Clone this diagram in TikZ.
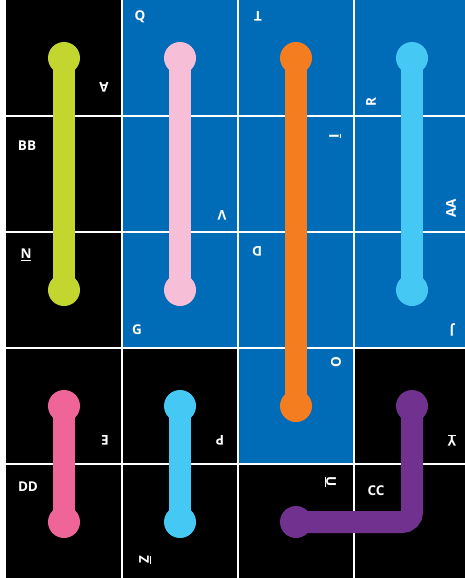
\documentclass[tikz,border=0pt]{standalone}
\usepackage{fontspec}
\setsansfont{Open Sans}
\definecolor{mapBlue}{HTML}{006CB7}
\definecolor{lineLime}{HTML}{C3D62F}
\definecolor{linePink}{HTML}{F7BFD7}
\definecolor{lineOrange}{HTML}{F47D20}
\definecolor{lineSky}{HTML}{46C8F5}
\definecolor{lineRose}{HTML}{EF6597}
\definecolor{linePurple}{HTML}{70318F}
\tikzset{
  map grid/.style={draw=white, line width=1.2pt},
  map tube/.style={line width=22pt, line cap=butt},
  map stop/.style={circle, fill=#1, minimum size=32pt, inner sep=0pt},
  map label/.style={text=white, inner sep=0pt,
    font=\sffamily\bfseries\fontsize{13.5}{15}\selectfont}
}
\begin{document}
\begin{tikzpicture}[x=1pt,y=-1pt]
  \useasboundingbox (0,0) rectangle (465,578);
  \fill[white] (0,0) rectangle (465,578);
  \fill[black] (6,0) rectangle (465,578);
  \fill[mapBlue] (122,0) -- (465,0) -- (465,348) -- (354,348) -- (354,464)
    -- (238,464) -- (238,348) -- (122,348) -- cycle;
  \foreach \x in {122,238,354}
    \draw[map grid] (\x,0) -- (\x,578);
  \foreach \y in {116,232,348,464}
    \draw[map grid] (6,\y) -- (465,\y);

  \node[map stop=lineLime] (limeA) at (64,58) {};
  \node[map stop=lineLime] (limeB) at (64,290) {};
  \node[map stop=linePink] (pinkA) at (180,58) {};
  \node[map stop=linePink] (pinkB) at (180,290) {};
  \node[map stop=lineOrange] (orangeA) at (296,58) {};
  \node[map stop=lineOrange] (orangeB) at (296,406) {};
  \node[map stop=lineSky] (skyA) at (412,58) {};
  \node[map stop=lineSky] (skyB) at (412,290) {};
  \node[map stop=lineRose] (roseA) at (64,406) {};
  \node[map stop=lineRose] (roseB) at (64,522) {};
  \node[map stop=lineSky] (skyC) at (180,406) {};
  \node[map stop=lineSky] (skyD) at (180,522) {};
  \node[map stop=linePurple] (purpleA) at (412,406) {};
  \node[map stop=linePurple] (purpleB) at (296,522) {};

  \draw[map tube, lineLime] (limeA.center) -- (limeB.center);
  \draw[map tube, linePink] (pinkA.center) -- (pinkB.center);
  \draw[map tube, lineOrange] (orangeA.center) -- (orangeB.center);
  \draw[map tube, lineSky] (skyA.center) -- (skyB.center);
  \draw[map tube, lineRose] (roseA.center) -- (roseB.center);
  \draw[map tube, lineSky] (skyC.center) -- (skyD.center);
  \draw[map tube, linePurple, rounded corners=10pt] (purpleA.center) |- (purpleB.center);

  \foreach \name/\px/\py/\rot/\txt in {
      labA/104/87/180/A, labQ/140/17/0/Q, labT/258/16/180/T,
      labR/371/102/90/R, labBB/27/146/0/BB, labV/222/215/180/V,
      labI/335/136/90/\underline{I}, labAA/451/208/90/AA,
      labN/26/255/0/\underline{N}, labD/257/251/180/D,
      labG/137/330/0/G, labJ/452/330/180/J, labO/336/362/90/O,
      labE/105/440/180/E, labP/220/440/180/P,
      labY/452/440/180/\underline{Y}, labDD/28/487/0/DD,
      labU/330/482/-90/\underline{U}, labCC/376/491/0/CC,
      labZ/145/560/90/\underline{Z}}
    \node[map label, rotate=\rot] (\name) at (\px,\py) {\txt};
\end{tikzpicture}
\end{document}
